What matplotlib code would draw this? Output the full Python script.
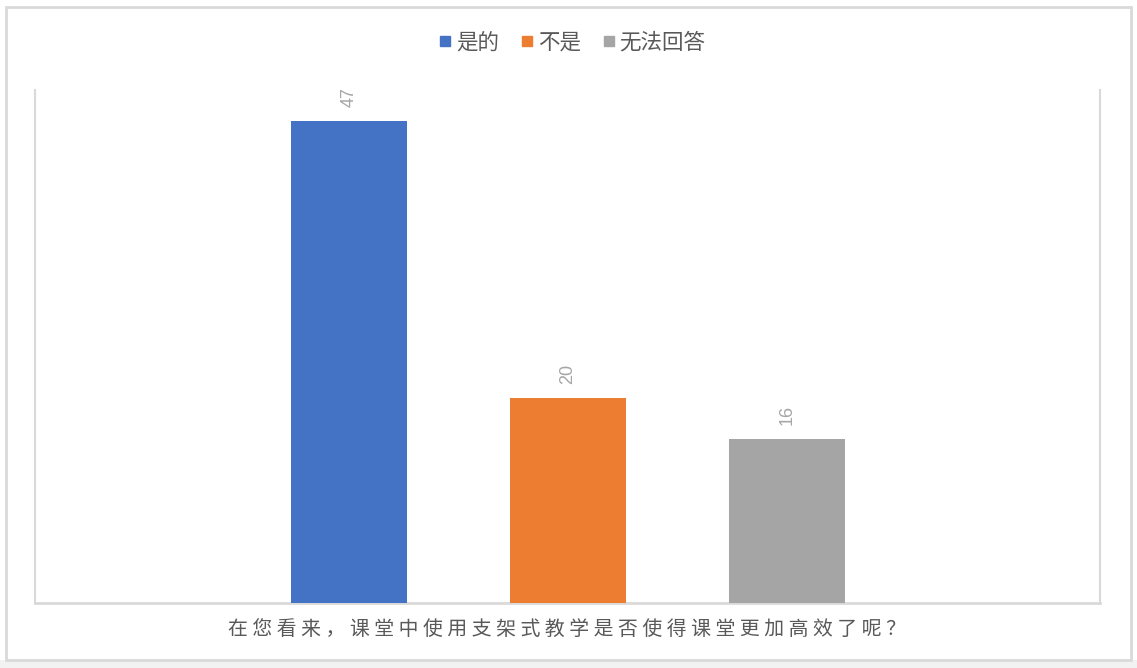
import matplotlib.pyplot as plt
from matplotlib.lines import Line2D
from matplotlib.patches import Rectangle

plt.rcParams['font.family'] = ['Noto Sans CJK SC', 'DejaVu Sans']

# 数据
series_names = ['是的', '不是', '无法回答']
series_values = [47, 20, 16]
series_colors = ['#4472C4', '#ED7D31', '#A5A5A5']
x_label = '在您看来，课堂中使用支架式教学是否使得课堂更加高效了呢？'

W, H = 1137, 668
fig = plt.figure(figsize=(W / 100, H / 100), dpi=100)
fig.patch.set_facecolor('white')

# 外框和底部灰条（放在坐标轴下面）
fig.patches.append(Rectangle((0, 0), 1, 8 / H, transform=fig.transFigure,
                             facecolor='#F2F2F2', edgecolor='none', zorder=-2))
fig.patches.append(Rectangle((6 / W, 1 - 660 / H), 1125 / W, 653 / H,
                             transform=fig.transFigure, facecolor='white',
                             edgecolor='#D9D9D9', linewidth=2, zorder=-1))

ax = fig.add_axes([35 / W, 1 - 603 / H, 1065 / W, 513 / H])
ax.set_facecolor('none')

pos = [-1, 0, 1]
bars = ax.bar(pos, series_values, width=0.53, color=series_colors, zorder=3)
for b, v in zip(bars, series_values):
    ax.annotate(str(v), (b.get_x() + b.get_width() / 2, v),
                xytext=(0, 10), textcoords='offset points',
                rotation=90, ha='center', va='bottom',
                fontsize=13, color='#A6A6A6', family='Liberation Sans')

ax.set_xlim(-2.434, 2.43)
ax.set_ylim(0, 50)
ax.set_xticks([])
ax.set_yticks([])
for s in ['left', 'right']:
    ax.spines[s].set_color('#D9D9D9')
    ax.spines[s].set_linewidth(1.5)
ax.spines['bottom'].set_color('#D9D9D9')
ax.spines['bottom'].set_linewidth(2)
ax.spines['top'].set_visible(False)

ax.set_xlabel(' '.join(x_label), fontsize=14.3, color='#595959', labelpad=12)

handles = [Line2D([], [], marker='s', linestyle='none', markersize=7,
                  color=c) for c in series_colors]
fig.legend(handles, series_names, loc='center', bbox_to_anchor=(571 / W, 1 - 43 / H),
           ncol=3, frameon=False, fontsize=15.5, labelcolor='#595959',
           handletextpad=0.1, columnspacing=0.9, handlelength=0.8)

fig.savefig('out.png', dpi=100, facecolor=fig.get_facecolor())
